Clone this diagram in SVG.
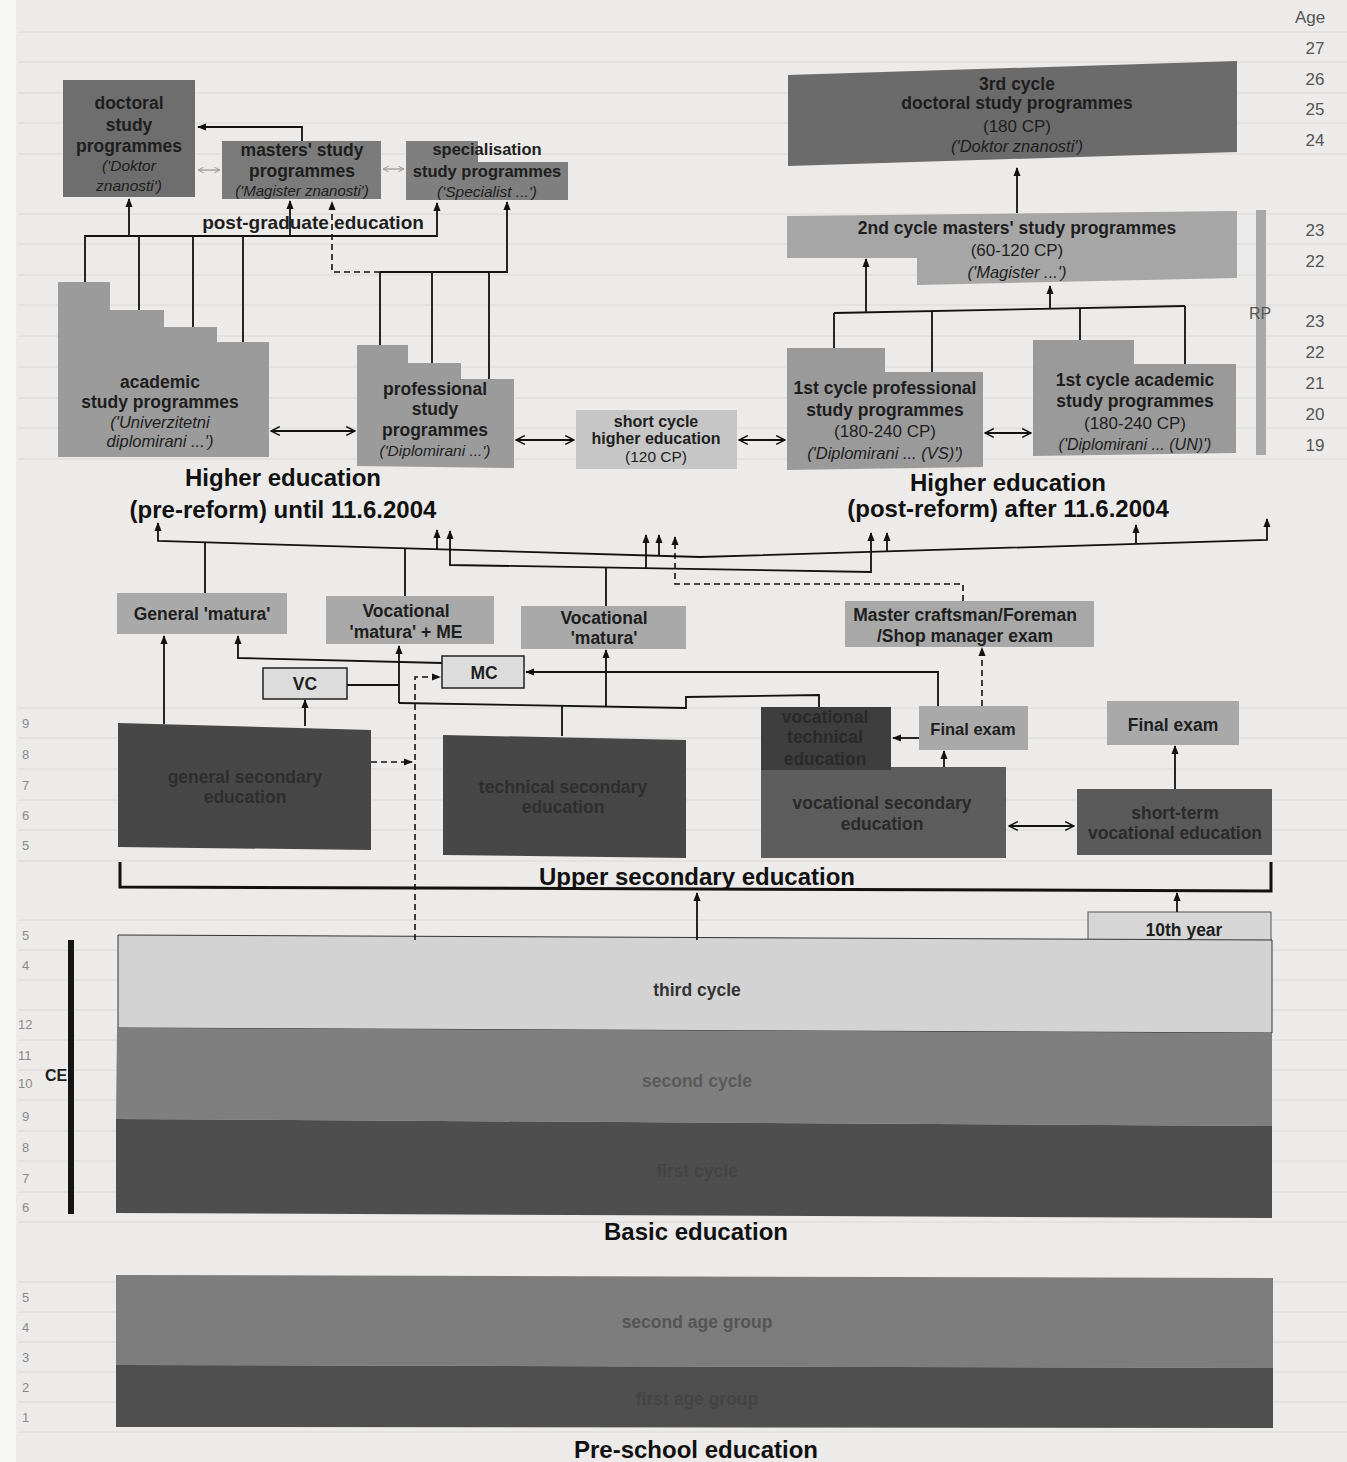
<svg xmlns="http://www.w3.org/2000/svg" width="1347" height="1462" viewBox="0 0 1347 1462">
<style>
text{font-family:"Liberation Sans",Arial,sans-serif;text-anchor:middle;fill:#1e1e1e}
.b{font-weight:bold;font-size:17.5px}
.it{font-style:italic;font-size:16.5px}
.n{font-size:17px}
.t{font-weight:bold;font-size:24px;fill:#111}
.age{font-size:17px;fill:#555}
.lage{font-size:13px;fill:#8a8a8a;text-anchor:start}
.c{stroke:#111;stroke-width:1.8;fill:none}
.d{stroke:#111;stroke-width:1.6;fill:none;stroke-dasharray:6 4}
.g{stroke:#999;stroke-width:1.3;fill:none}
</style>
<defs>
<marker id="ah" viewBox="0 0 10 10" refX="9" refY="5" markerWidth="9" markerHeight="9" markerUnits="userSpaceOnUse" orient="auto-start-reverse"><path d="M0,1 L10,5 L0,9 z" fill="#111"/></marker>
<marker id="oa" viewBox="0 0 10 10" refX="9" refY="5" markerWidth="11" markerHeight="11" markerUnits="userSpaceOnUse" orient="auto-start-reverse"><path d="M1,1 L9,5 L1,9" fill="none" stroke="#111" stroke-width="1.4"/></marker>
<marker id="ga" viewBox="0 0 10 10" refX="9" refY="5" markerWidth="7" markerHeight="7" markerUnits="userSpaceOnUse" orient="auto-start-reverse"><path d="M1,1 L9,5 L1,9" fill="none" stroke="#999" stroke-width="1.4"/></marker>
</defs>
<rect width="1347" height="1462" fill="#ecebe9"/>
<rect width="16" height="1462" fill="#f7f7f6"/>
<g id="gridlines" stroke="#d8d8d6" stroke-width="1">
<path d="M18,32H1347M18,62H1347M18,93H1347M18,123H1347M18,154H1347M18,214H1347M18,244H1347M18,275H1347M18,305H1347M18,336H1347M18,367H1347M18,398H1347M18,428H1347M18,459H1347M18,708H1347M18,738H1347M18,769H1347M18,800H1347M18,830H1347M18,861H1347M18,920H1347M18,950H1347M18,980H1347M18,1010H1347M18,1040H1347M18,1070H1347M18,1100H1347M18,1131H1347M18,1161H1347M18,1192H1347M18,1222H1347M18,1282H1347M18,1312H1347M18,1342H1347M18,1372H1347M18,1402H1347M18,1432H1347"/>
</g>

<g id="ages-right">
<text class="age" x="1310" y="23">Age</text>
<text class="age" x="1315" y="54">27</text>
<text class="age" x="1315" y="85">26</text>
<text class="age" x="1315" y="115">25</text>
<text class="age" x="1315" y="146">24</text>
<text class="age" x="1315" y="236">23</text>
<text class="age" x="1315" y="267">22</text>
<text class="age" x="1315" y="327">23</text>
<text class="age" x="1315" y="358">22</text>
<text class="age" x="1315" y="389">21</text>
<text class="age" x="1315" y="420">20</text>
<text class="age" x="1315" y="451">19</text>
</g>
<g id="ages-left">
<text class="lage" x="22" y="728">9</text>
<text class="lage" x="22" y="759">8</text>
<text class="lage" x="22" y="790">7</text>
<text class="lage" x="22" y="820">6</text>
<text class="lage" x="22" y="850">5</text>
<text class="lage" x="22" y="940">5</text>
<text class="lage" x="22" y="970">4</text>
<text class="lage" x="18" y="1029">12</text>
<text class="lage" x="18" y="1060">11</text>
<text class="lage" x="18" y="1088">10</text>
<text class="lage" x="22" y="1121">9</text>
<text class="lage" x="22" y="1152">8</text>
<text class="lage" x="22" y="1183">7</text>
<text class="lage" x="22" y="1212">6</text>
<text class="lage" x="22" y="1302">5</text>
<text class="lage" x="22" y="1332">4</text>
<text class="lage" x="22" y="1362">3</text>
<text class="lage" x="22" y="1392">2</text>
<text class="lage" x="22" y="1422">1</text>
</g>

<g id="doctoral-pre">
<rect x="63" y="80" width="132" height="117" fill="#6e6e6e"/>
<text class="b" x="129" y="109">doctoral</text>
<text class="b" x="129" y="131">study</text>
<text class="b" x="129" y="152">programmes</text>
<text class="it" x="129" y="171" style="font-size:15.5px">('Doktor</text>
<text class="it" x="129" y="191" style="font-size:15.5px">znanosti')</text>
</g>
<g id="masters-pre">
<rect x="222" y="141" width="159" height="58" fill="#7b7b7b"/>
<text class="b" x="302" y="156">masters' study</text>
<text class="b" x="302" y="177">programmes</text>
<text class="it" x="302" y="196" style="font-size:15px">('Magister znanosti')</text>
</g>
<g id="specialisation">
<polygon points="406,141 478,141 478,162 568,162 568,200 406,200" fill="#7f7f7f"/>
<text class="b" x="487" y="155" style="font-size:16.5px">specialisation</text>
<text class="b" x="487" y="177" style="font-size:16.5px">study programmes</text>
<text class="it" x="487" y="197" style="font-size:15.5px">('Specialist ...')</text>
</g>
<text class="b" x="313" y="229" style="font-size:19px">post-graduate education</text>

<g id="academic-pre">
<polygon points="58,282 110,282 110,310 164,310 164,327 217,327 217,342 269,342 269,457 58,457" fill="#9b9b9b"/>
<text class="b" x="160" y="388">academic</text>
<text class="b" x="160" y="408">study programmes</text>
<text class="it" x="160" y="428">('Univerzitetni</text>
<text class="it" x="160" y="447">diplomirani ...')</text>
</g>
<g id="professional-pre">
<polygon points="357,345 408,345 408,363 461,363 461,379 514,379 514,468 357,466" fill="#9b9b9b"/>
<text class="b" x="435" y="395">professional</text>
<text class="b" x="435" y="415">study</text>
<text class="b" x="435" y="436">programmes</text>
<text class="it" x="435" y="456" style="font-size:15.5px">('Diplomirani ...')</text>
</g>
<g id="short-cycle">
<rect x="576" y="410" width="161" height="59" fill="#c6c6c6"/>
<text class="b" x="656" y="427" style="font-size:16px">short cycle</text>
<text class="b" x="656" y="444" style="font-size:16px">higher education</text>
<text class="n" x="656" y="462" style="font-size:15.5px">(120 CP)</text>
</g>
<text class="t" x="283" y="486">Higher education</text>
<text class="t" x="283" y="518">(pre-reform) until 11.6.2004</text>

<g id="third-cycle-post">
<polygon points="788,75 1237,61 1237,152 788,166" fill="#6b6b6b"/>
<text class="b" x="1017" y="90">3rd cycle</text>
<text class="b" x="1017" y="109">doctoral study programmes</text>
<text class="n" x="1017" y="132">(180 CP)</text>
<text class="it" x="1017" y="152">('Doktor znanosti')</text>
</g>
<g id="second-cycle-post">
<polygon points="787,216 1237,211 1237,278 917,285 917,258 787,258" fill="#a6a6a6"/>
<text class="b" x="1017" y="234">2nd cycle masters' study programmes</text>
<text class="n" x="1017" y="256">(60-120 CP)</text>
<text class="it" x="1017" y="278">('Magister ...')</text>
</g>
<g id="first-cycle-prof">
<polygon points="787,348 885,348 885,372 983,372 983,467 787,470" fill="#9a9a9a"/>
<text class="b" x="885" y="394">1st cycle professional</text>
<text class="b" x="885" y="416">study programmes</text>
<text class="n" x="885" y="437">(180-240 CP)</text>
<text class="it" x="885" y="459">('Diplomirani ... (VS)')</text>
</g>
<g id="first-cycle-acad">
<polygon points="1033,340 1134,340 1134,364 1236,364 1236,453 1033,456" fill="#9a9a9a"/>
<text class="b" x="1135" y="386">1st cycle academic</text>
<text class="b" x="1135" y="407">study programmes</text>
<text class="n" x="1135" y="429">(180-240 CP)</text>
<text class="it" x="1135" y="450" style="font-size:16px">('Diplomirani ... (UN)')</text>
</g>
<g id="rp">
<rect x="1256" y="210" width="10" height="245" fill="#a8a8a8"/>
<text x="1260" y="319" style="font-size:16px;fill:#555">RP</text>
</g>
<text class="t" x="1008" y="491">Higher education</text>
<text class="t" x="1008" y="517">(post-reform) after 11.6.2004</text>

<g id="general-matura">
<rect x="117" y="593" width="170" height="41" fill="#a9a9a9"/>
<text class="b" x="202" y="620">General 'matura'</text>
</g>
<g id="vocational-matura-me">
<rect x="326" y="596" width="168" height="48" fill="#a9a9a9"/>
<text class="b" x="406" y="617">Vocational</text>
<text class="b" x="406" y="638">'matura' + ME</text>
</g>
<g id="vocational-matura">
<rect x="521" y="606" width="165" height="43" fill="#a9a9a9"/>
<text class="b" x="604" y="624">Vocational</text>
<text class="b" x="604" y="644">'matura'</text>
</g>
<g id="master-exam">
<rect x="845" y="601" width="249" height="46" fill="#a8a8a8"/>
<text class="b" x="965" y="621">Master craftsman/Foreman</text>
<text class="b" x="965" y="642">/Shop manager exam</text>
</g>
<g id="vc">
<rect x="263" y="668" width="84" height="31" fill="#dcdcdc" stroke="#222" stroke-width="1.5"/>
<text class="b" x="305" y="690">VC</text>
</g>
<g id="mc">
<rect x="442" y="656" width="82" height="32" fill="#dcdcdc" stroke="#222" stroke-width="1.5"/>
<text class="b" x="484" y="679">MC</text>
</g>

<g id="general-secondary">
<polygon points="118,723 371,730 371,850 118,847" fill="#474747"/>
<text class="b" x="245" y="783" style="fill:#2e2e2e">general secondary</text>
<text class="b" x="245" y="803" style="fill:#2e2e2e">education</text>
</g>
<g id="technical-secondary">
<polygon points="443,735 686,740 686,858 443,855" fill="#474747"/>
<text class="b" x="563" y="793" style="fill:#2e2e2e">technical secondary</text>
<text class="b" x="563" y="813" style="fill:#2e2e2e">education</text>
</g>
<g id="vocational-secondary">
<rect x="761" y="767" width="245" height="91" fill="#5d5d5d"/>
<text class="b" x="882" y="809" style="fill:#2a2a2a">vocational secondary</text>
<text class="b" x="882" y="830" style="fill:#2a2a2a">education</text>
</g>
<g id="vocational-technical">
<rect x="761" y="707" width="130" height="63" fill="#3e3e3e"/>
<text class="b" x="825" y="723" style="fill:#2a2a2a">vocational</text>
<text class="b" x="825" y="743" style="fill:#2a2a2a">technical</text>
<text class="b" x="825" y="765" style="fill:#2a2a2a">education</text>
</g>
<g id="final-exam-1">
<rect x="919" y="706" width="109" height="44" fill="#a9a9a9"/>
<text class="b" x="973" y="735" style="font-size:16.5px">Final exam</text>
</g>
<g id="final-exam-2">
<rect x="1107" y="701" width="132" height="44" fill="#a9a9a9"/>
<text class="b" x="1173" y="731">Final exam</text>
</g>
<g id="short-term">
<rect x="1077" y="789" width="195" height="66" fill="#5a5a5a"/>
<text class="b" x="1175" y="819" style="fill:#2a2a2a">short-term</text>
<text class="b" x="1175" y="839" style="fill:#2a2a2a">vocational education</text>
</g>
<text class="t" x="697" y="885">Upper secondary education</text>

<g id="tenth-year">
<rect x="1088" y="912" width="183" height="32" fill="#d6d6d6" stroke="#555" stroke-width="1"/>
<text class="b" x="1184" y="936">10th year</text>
</g>
<g id="basic-third">
<polygon points="118,935 1272,940 1272,1033 118,1028" fill="#d3d3d3" stroke="#333" stroke-width="1"/>
<text class="b" x="697" y="996" style="fill:#333">third cycle</text>
</g>
<g id="basic-second">
<polygon points="117,1028 1272,1033 1272,1126 116,1119" fill="#7f7f7f"/>
<text class="b" x="697" y="1087" style="fill:#5a5a5a">second cycle</text>
</g>
<g id="basic-first">
<polygon points="116,1119 1272,1126 1272,1218 116,1213" fill="#4e4e4e"/>
<text class="b" x="697" y="1177" style="fill:#444">first cycle</text>
</g>
<g id="ce">
<rect x="68" y="940" width="6" height="274" fill="#151515"/>
<text class="b" x="56" y="1081" style="font-size:16px">CE</text>
</g>
<text class="t" x="696" y="1240">Basic education</text>

<g id="pre-second">
<polygon points="116,1275 1273,1278 1273,1368 116,1365" fill="#7d7d7d"/>
<text class="b" x="697" y="1328" style="fill:#555">second age group</text>
</g>
<g id="pre-first">
<polygon points="116,1365 1273,1368 1273,1428 116,1427" fill="#4f4f4f"/>
<text class="b" x="697" y="1405" style="fill:#444">first age group</text>
</g>
<text class="t" x="696" y="1458">Pre-school education</text>

<g id="connectors">
<polyline class="c" points="85,282 85,236 437,236 437,203" marker-end="url(#ah)"/>
<line class="c" x1="129" y1="236" x2="129" y2="199" marker-end="url(#ah)"/>
<line class="c" x1="290" y1="236" x2="290" y2="201" marker-end="url(#ah)"/>
<line class="c" x1="139" y1="236" x2="139" y2="310"/>
<line class="c" x1="193" y1="236" x2="193" y2="327"/>
<line class="c" x1="243" y1="236" x2="243" y2="342"/>
<polyline class="c" points="302,141 302,127 198,127" marker-end="url(#ah)"/>
<line class="g" x1="198" y1="170" x2="220" y2="170" marker-start="url(#ga)" marker-end="url(#ga)"/>
<line class="g" x1="383" y1="169" x2="404" y2="169" marker-start="url(#ga)" marker-end="url(#ga)"/>
<polyline class="d" points="380,272 332,272 332,202" marker-end="url(#ah)"/>
<polyline class="c" points="380,272 507,272 507,202" marker-end="url(#ah)"/>
<line class="c" x1="380" y1="272" x2="380" y2="345"/>
<line class="c" x1="432" y1="272" x2="432" y2="363"/>
<line class="c" x1="489" y1="272" x2="489" y2="379"/>
<line class="c" x1="271" y1="431" x2="355" y2="431" marker-start="url(#oa)" marker-end="url(#oa)"/>
<line class="c" x1="516" y1="440" x2="574" y2="440" marker-start="url(#oa)" marker-end="url(#oa)"/>
<line class="c" x1="739" y1="440" x2="785" y2="440" marker-start="url(#oa)" marker-end="url(#oa)"/>
<line class="c" x1="985" y1="433" x2="1031" y2="433" marker-start="url(#oa)" marker-end="url(#oa)"/>

<line class="c" x1="1017" y1="213" x2="1017" y2="168" marker-end="url(#ah)"/>
<line class="c" x1="834" y1="313" x2="1185" y2="306"/>
<line class="c" x1="834" y1="313" x2="834" y2="348"/>
<line class="c" x1="932" y1="311" x2="932" y2="372"/>
<line class="c" x1="1080" y1="308" x2="1080" y2="340"/>
<line class="c" x1="1185" y1="306" x2="1185" y2="364"/>
<line class="c" x1="866" y1="312" x2="866" y2="259" marker-end="url(#ah)"/>
<line class="c" x1="1050" y1="309" x2="1050" y2="286" marker-end="url(#ah)"/>

<polyline class="c" points="158,523 158,541 700,557 1267,540 1267,519" marker-start="url(#ah)" marker-end="url(#ah)"/>
<line class="c" x1="437" y1="549" x2="437" y2="530" marker-end="url(#ah)"/>
<line class="c" x1="659" y1="556" x2="659" y2="535" marker-end="url(#ah)"/>
<line class="c" x1="887" y1="551" x2="887" y2="533" marker-end="url(#ah)"/>
<line class="c" x1="1136" y1="544" x2="1136" y2="525" marker-end="url(#ah)"/>
<line class="c" x1="205" y1="542" x2="205" y2="593"/>
<line class="c" x1="405" y1="548" x2="405" y2="596"/>
<polyline class="c" points="450,531 450,565 871,572 871,533" marker-start="url(#ah)" marker-end="url(#ah)"/>
<line class="c" x1="646" y1="568" x2="646" y2="535" marker-end="url(#ah)"/>
<line class="c" x1="606" y1="567" x2="606" y2="606"/>
<polyline class="d" points="963,601 963,584 675,584 675,537" marker-end="url(#ah)"/>

<line class="c" x1="164" y1="724" x2="164" y2="636" marker-end="url(#ah)"/>
<line class="c" x1="305" y1="726" x2="305" y2="700" marker-end="url(#ah)"/>
<polyline class="c" points="347,685 399,685"/>
<polyline class="c" points="399,703 686,708 686,697 819,695 819,707"/>
<line class="c" x1="399" y1="703" x2="399" y2="646" marker-end="url(#ah)"/>
<line class="c" x1="606" y1="707" x2="606" y2="650" marker-end="url(#ah)"/>
<line class="c" x1="562" y1="706" x2="562" y2="736"/>
<polyline class="c" points="442,663 238,658 238,636" marker-end="url(#ah)"/>
<polyline class="c" points="938,706 938,672 526,672" marker-end="url(#ah)"/>
<polyline class="d" points="415,940 415,677 440,677" marker-end="url(#ah)"/>
<line class="d" x1="371" y1="762" x2="412" y2="762" marker-end="url(#ah)"/>
<line class="c" x1="919" y1="738" x2="893" y2="738" marker-end="url(#ah)"/>
<line class="c" x1="944" y1="767" x2="944" y2="751" marker-end="url(#ah)"/>
<line class="d" x1="982" y1="706" x2="982" y2="648" marker-end="url(#ah)"/>
<line class="c" x1="1175" y1="789" x2="1175" y2="746" marker-end="url(#ah)"/>
<line class="c" x1="1009" y1="826" x2="1074" y2="826" marker-start="url(#oa)" marker-end="url(#oa)"/>
<polyline points="120,862 120,887 1271,891 1271,862" fill="none" stroke="#111" stroke-width="3"/>
<line class="c" x1="697" y1="940" x2="697" y2="893" marker-end="url(#ah)"/>
<line class="c" x1="1177" y1="912" x2="1177" y2="893" marker-end="url(#ah)"/>
</g>
</svg>
